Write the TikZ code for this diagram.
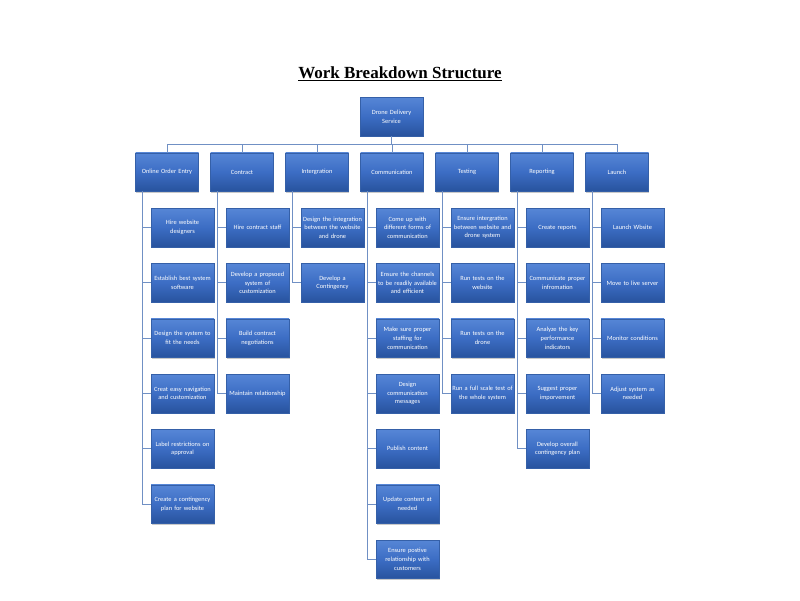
\documentclass[tikz,border=0pt]{standalone}
\usepackage{fontspec}
\setmainfont{Carlito}
\newfontfamily\titlefont{Liberation Serif}
\usetikzlibrary{shadows}
\definecolor{boxtop}{HTML}{5686D6}
\definecolor{boxmid}{HTML}{3C6DC4}
\definecolor{boxbot}{HTML}{28539E}
\definecolor{boxedge}{HTML}{3560A8}
\definecolor{linec}{HTML}{7090C4}
\begin{document}
\begin{tikzpicture}[x=1pt,y=-1pt,
  wbs/.style={rectangle, minimum width=63pt, minimum height=38.5pt, text width=62pt,
    align=center, inner sep=0.3pt, top color=boxtop, bottom color=boxbot, middle color=boxmid,
    draw=boxedge, line width=0.3pt,
    drop shadow={shadow xshift=0.6pt, shadow yshift=-1.4pt, opacity=0.3, fill=black!70},
    text=white, font=\fontsize{6.4}{8.7}\selectfont},
  conn/.style={draw=linec, line width=0.7pt}]
\useasboundingbox (0,0) rectangle (800,600);

\node (title) at (400,74) {\titlefont\bfseries\fontsize{17}{19}\selectfont\underline{Work Breakdown Structure}};

\node[wbs] (root) at (391.5,116.5) {Drone Delivery\\Service};

\node[wbs] (p1) at (167,172) {Online Order Entry};
\node[wbs] (p2) at (242,172) {Contract};
\node[wbs] (p3) at (317,172) {Intergration};
\node[wbs] (p4) at (392,172) {Communication};
\node[wbs] (p5) at (467,172) {Testing};
\node[wbs] (p6) at (542,172) {Reporting};
\node[wbs] (p7) at (617,172) {Launch};

% Online Order Entry
\node[wbs] (c11) at (182.5,227.5) {Hire website\\designers};
\node[wbs] (c12) at (182.5,282.8) {Establish best system\\software};
\node[wbs] (c13) at (182.5,338.1) {Design the system to\\fit the needs};
\node[wbs] (c14) at (182.5,393.4) {Creat easy navigation\\and customization};
\node[wbs] (c15) at (182.5,448.7) {Label restrictions on\\approval};
\node[wbs] (c16) at (182.5,504) {Create a contingency\\plan for website};
% Contract
\node[wbs] (c21) at (257.5,227.5) {Hire contract staff};
\node[wbs] (c22) at (257.5,282.8) {Develop a propsoed\\system of\\customization};
\node[wbs] (c23) at (257.5,338.1) {Build contract\\negotiations};
\node[wbs] (c24) at (257.5,393.4) {Maintain relationship};
% Integration
\node[wbs] (c31) at (332.5,227.5) {Design the integration\\between the website\\and drone};
\node[wbs] (c32) at (332.5,282.8) {Develop a\\Contingency};
% Communication
\node[wbs] (c41) at (407.5,227.5) {Come up with\\different forms of\\communication};
\node[wbs] (c42) at (407.5,282.8) {Ensure the channels\\to be readily available\\and efficient};
\node[wbs] (c43) at (407.5,338.1) {Make sure proper\\staffing for\\communication};
\node[wbs] (c44) at (407.5,393.4) {Design\\communication\\messages};
\node[wbs] (c45) at (407.5,448.7) {Publish content};
\node[wbs] (c46) at (407.5,504) {Update content at\\needed};
\node[wbs] (c47) at (407.5,559.3) {Ensure postive\\relationship with\\customers};
% Testing
\node[wbs] (c51) at (482.5,227.5) {Ensure intergration\\between website and\\drone system};
\node[wbs] (c52) at (482.5,282.8) {Run tests on the\\website};
\node[wbs] (c53) at (482.5,338.1) {Run tests on the\\drone};
\node[wbs] (c54) at (482.5,393.4) {Run a full scale test of\\the whole system};
% Reporting
\node[wbs] (c61) at (557.5,227.5) {Create reports};
\node[wbs] (c62) at (557.5,282.8) {Communicate proper\\infromation};
\node[wbs] (c63) at (557.5,338.1) {Analyze the key\\performance\\indicators};
\node[wbs] (c64) at (557.5,393.4) {Suggest proper\\imporvement};
\node[wbs] (c65) at (557.5,448.7) {Develop overall\\contingency plan};
% Launch
\node[wbs] (c71) at (632.5,227.5) {Launch Wbsite};
\node[wbs] (c72) at (632.5,282.8) {Move to live server};
\node[wbs] (c73) at (632.5,338.1) {Monitor conditions};
\node[wbs] (c74) at (632.5,393.4) {Adjust system as\\needed};

% connectors from root
\coordinate (bus) at ([yshift=-8pt]root.south);
\draw[conn] (root.south) -- (bus);
\foreach \p in {p1,p2,p3,p4,p5,p6,p7}{
  \draw[conn] (bus) -| (\p.north);
}
% connectors to children
\foreach \c in {c11,c12,c13,c14,c15,c16}{\draw[conn] ([xshift=-24.5pt]p1.south) |- (\c.west);}
\foreach \c in {c21,c22,c23,c24}{\draw[conn] ([xshift=-24.5pt]p2.south) |- (\c.west);}
\foreach \c in {c31,c32}{\draw[conn] ([xshift=-24.5pt]p3.south) |- (\c.west);}
\foreach \c in {c41,c42,c43,c44,c45,c46,c47}{\draw[conn] ([xshift=-24.5pt]p4.south) |- (\c.west);}
\foreach \c in {c51,c52,c53,c54}{\draw[conn] ([xshift=-24.5pt]p5.south) |- (\c.west);}
\foreach \c in {c61,c62,c63,c64,c65}{\draw[conn] ([xshift=-24.5pt]p6.south) |- (\c.west);}
\foreach \c in {c71,c72,c73,c74}{\draw[conn] ([xshift=-24.5pt]p7.south) |- (\c.west);}
\end{tikzpicture}
\end{document}
